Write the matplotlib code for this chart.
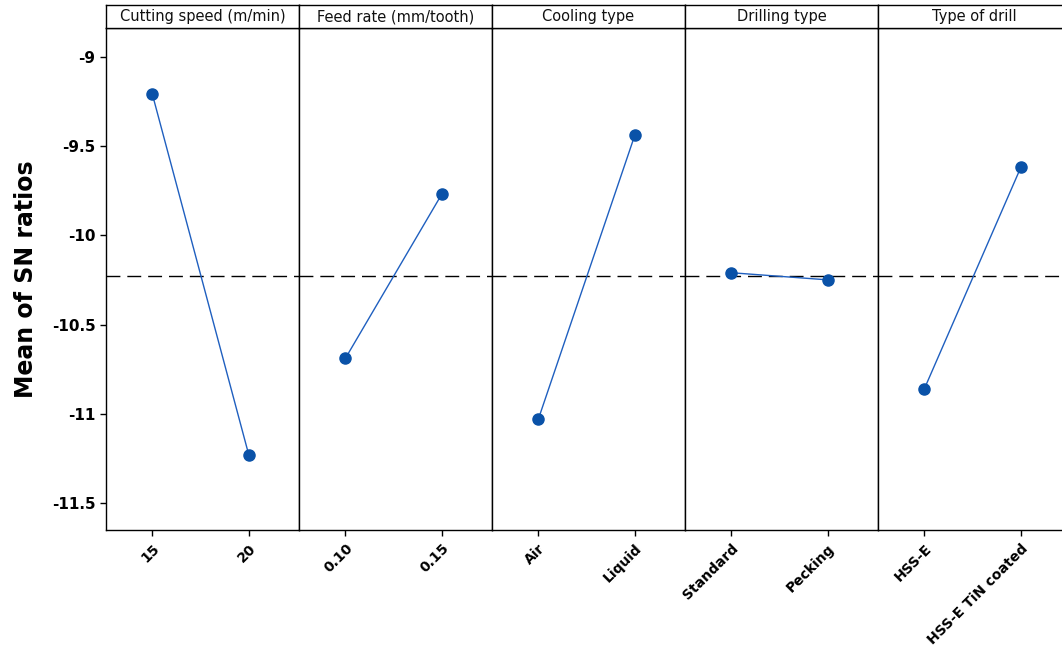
import matplotlib
matplotlib.use('Agg')
import matplotlib.pyplot as plt
import numpy as np

FACTORS = ["Cutting speed (m/min)", "Feed rate (mm/tooth)", "Cooling type",
           "Drilling type", "Type of drill"]
LEVELS = [["15", "20"], ["0.10", "0.15"], ["Air", "Liquid"],
          ["Standard", "Pecking"], ["HSS-E", "HSS-E TiN coated"]]
SN_MEANS = [[-9.21, -11.23], [-10.69, -9.77], [-11.03, -9.44],
            [-10.21, -10.25], [-10.86, -9.62]]
GRAND_MEAN = -10.23

YTICKS = [-9, -9.5, -10, -10.5, -11, -11.5]

fig, axes = plt.subplots(1, 5, figsize=(10.62, 6.5), dpi=100, sharey=True)
# the last panel runs slightly past the right edge of the canvas, as in the source
plt.subplots_adjust(left=0.0998, right=1.0085, bottom=0.1846, top=0.957, wspace=0)

for i, ax in enumerate(axes):
    ax.axhline(GRAND_MEAN, color='black', linewidth=1.0, dashes=(10, 5), zorder=1)
    ax.plot([0, 1], SN_MEANS[i], color='#1f5fbf', linewidth=1.0, zorder=2)
    ax.plot([0, 1], SN_MEANS[i], 'o', color='#0a52a8', markersize=8, zorder=3)
    ax.set_xlim(-0.48, 1.52)
    ax.set_ylim(-11.65, -8.84)
    ax.set_xticks([0, 1])
    ax.set_xticklabels(LEVELS[i], rotation=45, ha='right', rotation_mode='anchor',
                       fontsize=10, fontweight='bold')
    ax.tick_params(axis='x', length=4, width=1, direction='out', pad=4)
    for s in ax.spines.values():
        s.set_linewidth(1.0)
    if i == 0:
        ax.set_yticks(YTICKS)
        ax.set_yticklabels([f"{t:g}" for t in YTICKS], fontsize=11, fontweight='bold')
        ax.tick_params(axis='y', length=4, width=1, direction='out')
        ax.set_ylabel("Mean of SN ratios", fontsize=17, fontweight='bold', labelpad=10)
    else:
        ax.tick_params(axis='y', left=False, labelleft=False)

    pos = ax.get_position()
    sax = fig.add_axes([pos.x0, pos.y1, pos.width, 0.992 - pos.y1])
    sax.set_xticks([])
    sax.set_yticks([])
    for s in sax.spines.values():
        s.set_linewidth(1.0)
    sax.text(0.5, 0.5, FACTORS[i], ha='center', va='center', fontsize=10.5,
             color='#111111')

plt.savefig('out.png', dpi=100)
